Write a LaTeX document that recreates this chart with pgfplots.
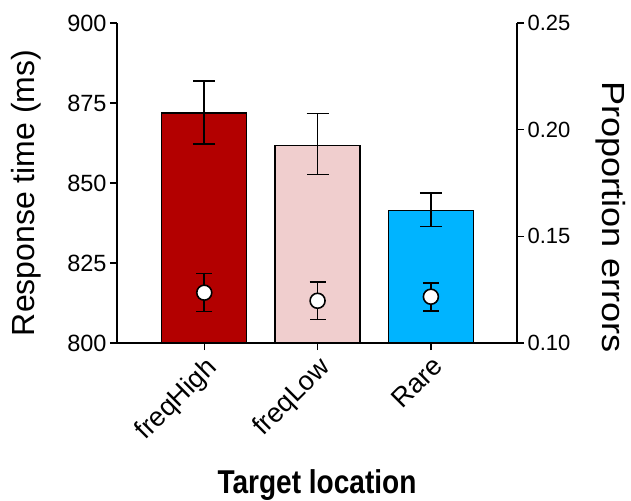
\documentclass[border=0pt]{standalone}
\usepackage{fontspec}
\setmainfont{Liberation Sans}
\newfontfamily\narrowfont[FakeStretch=0.85]{Liberation Sans}
\newfontfamily\widefont[FakeStretch=1.13]{Liberation Sans}
\usepackage{pgfplots}
\pgfplotsset{compat=1.18}
\definecolor{cHigh}{RGB}{179,0,0}
\definecolor{cLow}{RGB}{240,206,206}
\definecolor{cRare}{RGB}{0,180,255}
\begin{document}
\begin{tikzpicture}
\useasboundingbox (-117pt,-157pt) rectangle (514pt,343pt);
\pgfplotsset{
 common/.style={scale only axis, width=400pt, height=320pt, xmin=-0.77, xmax=2.76,
  axis line style={line width=1.4pt}, tick style={line width=1.4pt, black},
  tick align=outside, major tick length=7pt,
  tick label style={font=\fontsize{22}{26}\selectfont},
  /pgf/number format/assume math mode=true},
 ebar/.style={error bars/.cd, y dir=both, y explicit,
  error bar style={line width=1.6pt, black},
  error mark options={line width=1.6pt, black, rotate=90, mark size=#1}},
}
\begin{axis}[common, axis x line*=bottom, axis y line*=left,
 ymin=800, ymax=900, ytick={800,825,850,875,900},
 yticklabel style={font=\fontsize{23.5}{27}\selectfont},
 xtick={0,1,2}, xticklabels={freqHigh,freqLow,Rare},
 x tick label style={rotate=45, anchor=north east, font=\fontsize{27}{31}\selectfont},
 ylabel={Response time (ms)},
 ylabel style={font=\fontsize{32}{36}\selectfont, at={(axis description cs:-0.2275,0.469)}, anchor=center},
 xlabel={Target location},
 xlabel style={font=\fontsize{33}{38}\selectfont\narrowfont\bfseries, at={(axis description cs:0.5,-0.445)}, anchor=center},
 ybar, bar width=85pt, bar shift=0pt]
\addplot[fill=cHigh, draw=black, line width=1.3pt, ebar=11pt] coordinates {(0,871.9) += (0,9.9) -= (0,9.7)};
\addplot[fill=cLow, draw=black, line width=1.3pt, ebar=11pt] coordinates {(1,861.8) += (0,9.9) -= (0,9.2)};
\addplot[fill=cRare, draw=black, line width=1.3pt, ebar=11pt] coordinates {(2,841.4) += (0,5.4) -= (0,5.0)};
\end{axis}
\begin{axis}[common, axis y line*=right, axis x line=none,
 ymin=0.10, ymax=0.25, ytick={0.10,0.15,0.20,0.25},
 yticklabel style={/pgf/number format/.cd, fixed, fixed zerofill, precision=2},
 ylabel={Proportion errors},
 ylabel style={font=\fontsize{32}{36}\selectfont\widefont, at={(axis description cs:1.235,0.394)}, anchor=center, rotate=180}]
\addplot[only marks, mark=*, mark size=7.5pt, mark options={fill=white, draw=black, line width=1.6pt}, ebar=8pt]
 coordinates {(0,0.1236) += (0,0.0089) -= (0,0.0089)
              (1,0.1198) += (0,0.0088) -= (0,0.0087)
              (2,0.1217) += (0,0.0064) -= (0,0.0067)};
\end{axis}
\end{tikzpicture}
\end{document}
